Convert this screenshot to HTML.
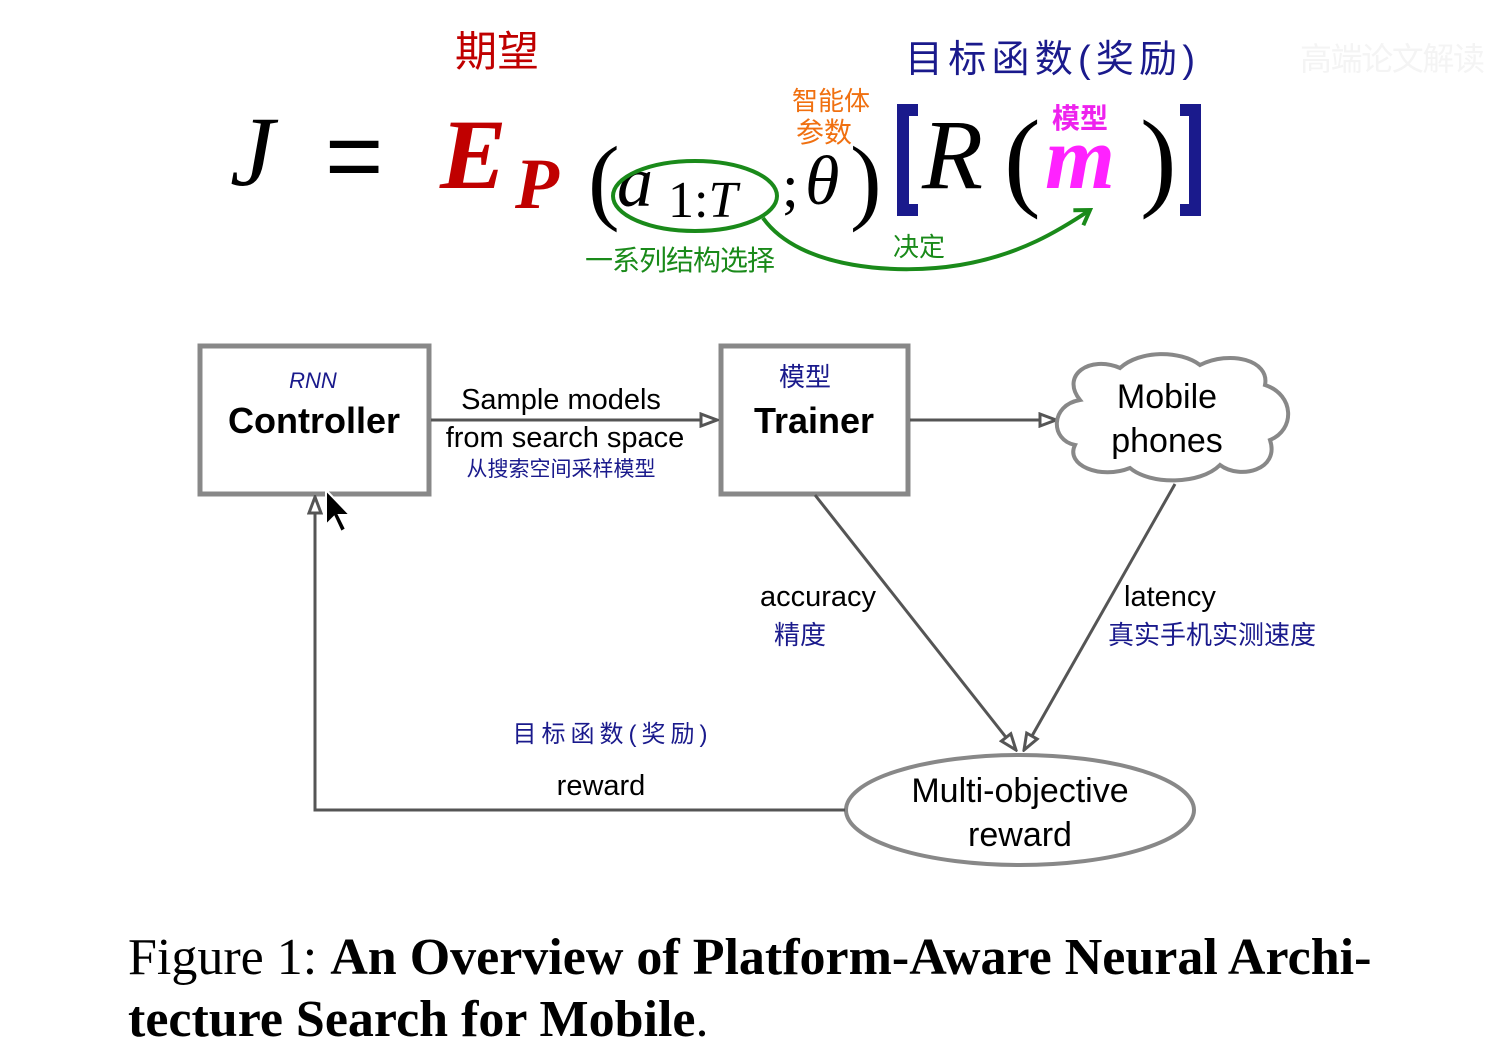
<!DOCTYPE html>
<html><head><meta charset="utf-8"><style>
html,body{margin:0;padding:0;background:#fff;}
svg{display:block;}
.cjk{font-family:"Liberation Sans","Noto Sans CJK SC",sans-serif;}
.s{font-family:"Liberation Sans",sans-serif;}
.m{font-family:"Liberation Serif",serif;font-style:italic;}
</style></head><body>
<svg width="1498" height="1061" viewBox="0 0 1498 1061" xmlns="http://www.w3.org/2000/svg">
<defs>
<marker id="ah" markerWidth="20" markerHeight="16" refX="18" refY="8" orient="auto" markerUnits="userSpaceOnUse">
<path d="M2,2 L18,8 L2,14 Z" fill="#fff" stroke="#555" stroke-width="3"/></marker>
<marker id="ga" markerWidth="24" markerHeight="24" refX="16" refY="12" orient="auto" markerUnits="userSpaceOnUse">
<path d="M2,3 L16,12 L2,21" fill="none" stroke="#1a8a1a" stroke-width="4"/></marker>
</defs>
<text x="455" y="66" class="cjk" font-size="42" fill="#c00000">期望</text>
<text x="905" y="72" class="cjk" font-size="38" fill="#1a1a8c" textLength="290">目标函数(奖励)</text>
<text x="1300" y="70" class="cjk" font-size="32" fill="#f4f4f4" textLength="185">高端论文解读</text>
<text x="792" y="110" class="cjk" font-size="26" fill="#f07010">智能体</text>
<text x="796" y="142" class="cjk" font-size="28" fill="#f07010">参数</text>
<text x="230" y="185" class="m" font-size="100" fill="#000">J</text>
<text x="325" y="190" class="s" font-size="100" fill="#000">=</text>
<text x="440" y="188" class="m" font-size="100" font-weight="bold" fill="#c00000">E</text>
<text x="515" y="208" class="m" font-size="72" font-weight="bold" fill="#c00000">P</text>
<text x="588" y="212" font-family="Liberation Serif" font-size="95" fill="#000">(</text>
<text x="617" y="206" class="m" font-size="72" fill="#000">a</text>
<text x="668" y="217" font-family="Liberation Serif" font-size="52" fill="#000">1:<tspan font-style="italic">T</tspan></text>
<text x="782" y="206" font-family="Liberation Serif" font-size="60" fill="#000">;</text>
<text x="805" y="204" class="m" font-size="70" fill="#000">θ</text>
<text x="850" y="212" font-family="Liberation Serif" font-size="95" fill="#000">)</text>
<path d="M918,110 L903,110 L903,210 L918,210" fill="none" stroke="#1a1a8c" stroke-width="12"/>
<text x="922" y="188" class="m" font-size="100" fill="#000">R</text>
<text x="1004" y="196" font-family="Liberation Serif" font-size="110" fill="#000">(</text>
<text x="1045" y="188" class="m" font-size="90" font-weight="bold" fill="#ff22ff">m</text>
<text x="1140" y="196" font-family="Liberation Serif" font-size="110" fill="#000">)</text>
<path d="M1180,110 L1195,110 L1195,210 L1180,210" fill="none" stroke="#1a1a8c" stroke-width="12"/>
<text x="1052" y="128" class="cjk" font-size="28" font-weight="bold" fill="#ee22ee">模型</text>
<ellipse cx="695" cy="196" rx="82" ry="35" fill="none" stroke="#1a8a1a" stroke-width="4"/>
<path d="M763,218 C800,270 900,275 960,265 C1020,255 1060,230 1090,210" fill="none" stroke="#1a8a1a" stroke-width="4" marker-end="url(#ga)"/>
<text x="585" y="270" class="cjk" font-size="28" fill="#1a8a1a" textLength="190">一系列结构选择</text>
<text x="893" y="256" class="cjk" font-size="26" fill="#1a8a1a">决定</text>
<rect x="200" y="346" width="229" height="148" fill="#fff" stroke="#888" stroke-width="5"/>
<text x="313" y="388" text-anchor="middle" class="cjk" font-size="22" font-style="italic" fill="#1a1a8c">RNN</text>
<text x="314" y="433" text-anchor="middle" class="s" font-size="36" font-weight="bold">Controller</text>
<rect x="721" y="346" width="187" height="148" fill="#fff" stroke="#888" stroke-width="5"/>
<text x="805" y="386" text-anchor="middle" class="cjk" font-size="26" fill="#1a1a8c">模型</text>
<text x="814" y="433" text-anchor="middle" class="s" font-size="36" font-weight="bold">Trainer</text>
<line x1="431" y1="420" x2="717" y2="420" stroke="#555" stroke-width="3" marker-end="url(#ah)"/>
<text x="561" y="409" text-anchor="middle" class="s" font-size="29">Sample models</text>
<text x="565" y="447" text-anchor="middle" class="s" font-size="29">from search space</text>
<text x="561" y="476" text-anchor="middle" class="cjk" font-size="21" fill="#1a1a8c">从搜索空间采样模型</text>
<line x1="910" y1="420" x2="1056" y2="420" stroke="#555" stroke-width="3" marker-end="url(#ah)"/>
<path d="M1080,400 C1060,375 1090,355 1120,368 C1140,350 1180,350 1200,365 C1230,350 1270,360 1265,385 C1295,395 1295,430 1270,440 C1280,470 1240,480 1220,465 C1200,485 1150,485 1130,468 C1100,480 1065,465 1075,445 C1050,440 1050,405 1080,400 Z" fill="#fff" stroke="#888" stroke-width="4"/>
<text x="1167" y="408" text-anchor="middle" class="s" font-size="34">Mobile</text>
<text x="1167" y="452" text-anchor="middle" class="s" font-size="34">phones</text>
<line x1="815" y1="495" x2="1016" y2="750" stroke="#555" stroke-width="3" marker-end="url(#ah)"/>
<line x1="1175" y1="484" x2="1024" y2="750" stroke="#555" stroke-width="3" marker-end="url(#ah)"/>
<text x="818" y="606" text-anchor="middle" class="s" font-size="29">accuracy</text>
<text x="800" y="644" text-anchor="middle" class="cjk" font-size="26" fill="#1a1a8c">精度</text>
<text x="1170" y="606" text-anchor="middle" class="s" font-size="29">latency</text>
<text x="1212" y="644" text-anchor="middle" class="cjk" font-size="26" fill="#1a1a8c">真实手机实测速度</text>
<ellipse cx="1020" cy="810" rx="174" ry="55" fill="#fff" stroke="#888" stroke-width="4"/>
<text x="1020" y="802" text-anchor="middle" class="s" font-size="34">Multi-objective</text>
<text x="1020" y="846" text-anchor="middle" class="s" font-size="34">reward</text>
<polyline points="845,810 315,810 315,497" fill="none" stroke="#555" stroke-width="3" marker-end="url(#ah)"/>
<text x="610" y="742" text-anchor="middle" class="cjk" font-size="24" fill="#1a1a8c" textLength="195">目标函数(奖励)</text>
<text x="601" y="795" text-anchor="middle" class="s" font-size="29">reward</text>
<path d="M326,490 L326,525 L334,517 L341,532 L346,529 L339,515 L350,515 Z" fill="#000" stroke="#fff" stroke-width="2"/>
<text x="128" y="974" font-family="Liberation Serif" font-size="52">Figure 1: <tspan font-weight="bold">An Overview of Platform-Aware Neural Archi-</tspan></text>
<text x="128" y="1036" font-family="Liberation Serif" font-size="52"><tspan font-weight="bold">tecture Search for Mobile</tspan>.</text>
</svg>
</body></html>
